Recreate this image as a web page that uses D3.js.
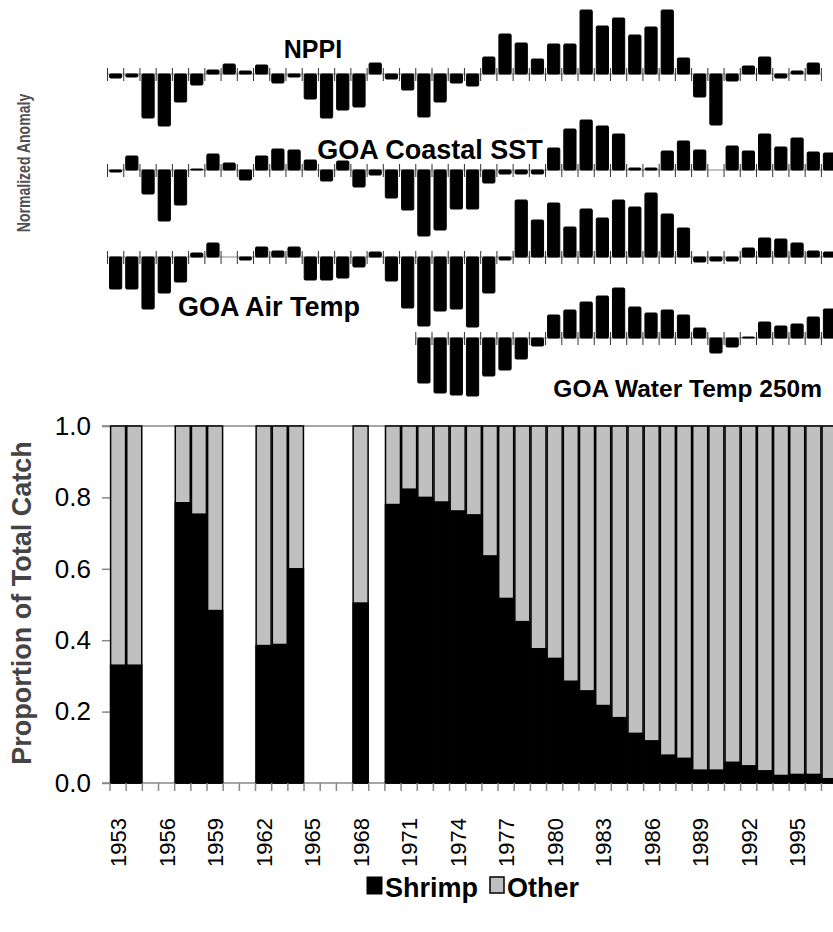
<!DOCTYPE html>
<html>
<head>
<meta charset="utf-8">
<script src="https://cdn.jsdelivr.net/npm/d3@7/dist/d3.min.js"></script>
<style>
  body { margin: 0; background: #fff; }
  svg { display: block; font-family: Arial, "Liberation Sans", sans-serif; }
</style>
</head>
<body>
<div id="chart"></div>
<script>
// years on the shared x axis
var years = d3.range(1953, 1998);
var labelYears = d3.range(1953, 1996, 3);
var propTicks = [0, 0.2, 0.4, 0.6, 0.8, 1.0];

// normalized anomalies (1953 ->)
var nppi = [-0.16, -0.12, -1.76, -2.08, -1.12, -0.44, 0.16, 0.4, 0.12, 0.36,
            -0.36, -0.12, -1.0, -1.76, -1.44, -1.32, 0.44, -0.2, -0.64, -1.72,
            -1.12, -0.36, -0.48, 0.68, 1.6, 1.24, 0.6, 1.2, 1.2, 2.56,
            1.92, 2.24, 1.56, 1.88, 2.56, 0.64, -0.92, -2.04, -0.28, 0.32,
            0.68, -0.16, 0.12, 0.44];
var coastalSST = [-0.08, 0.56, -0.96, -2.04, -1.4, 0.04, 0.64, 0.28, -0.4, 0.56,
                  0.84, 0.8, 0.4, -0.44, 0.36, -0.68, -0.2, -1.12, -1.6, -2.64,
                  -2.4, -1.56, -1.56, -0.52, -0.16, -0.16, -0.16, 0.88, 1.64, 2.0,
                  1.76, 1.44, 0.08, 0.08, 0.76, 1.16, 0.8, 0, 0.96, 0.76,
                  1.44, 0.92, 1.28, 0.72, 0.68];
var airTemp = [-1.28, -1.28, -2.08, -1.44, -1.0, 0.16, 0.56, 0, -0.12, 0.4,
               0.24, 0.4, -0.92, -0.92, -0.84, -0.4, 0.2, -0.96, -2.04, -2.76,
               -2.16, -2.08, -2.8, -1.44, -0.12, 2.28, 1.48, 2.16, 1.2, 1.92,
               1.56, 2.28, 2.0, 2.56, 1.72, 1.16, -0.2, -0.16, -0.16, 0.36,
               0.76, 0.72, 0.56, 0.24, 0.2];
// water temp series starts in 1972
var waterTemp = [-1.8, -2.2, -2.28, -2.32, -1.52, -1.28, -0.84, -0.32, 0.92, 1.12,
                 1.44, 1.68, 2.0, 1.24, 1.0, 1.12, 0.92, 0.4, -0.6, -0.36,
                 0.04, 0.64, 0.48, 0.56, 0.84, 1.16];

// shrimp share of total catch, null = no data
var shrimp = [0.33, 0.33, null, null, 0.785, 0.753, 0.483, null, null, 0.385,
              0.388, 0.60, null, null, null, 0.504, null, 0.78, 0.823, 0.80,
              0.787, 0.762, 0.751, 0.636, 0.517, 0.452, 0.376, 0.349, 0.285, 0.258,
              0.217, 0.183, 0.139, 0.118, 0.078, 0.069, 0.036, 0.036, 0.058, 0.048,
              0.034, 0.021, 0.024, 0.024, 0.012];

var W = 833, H = 932;
var FONT = "Arial, 'Liberation Sans', sans-serif";

var svg = d3.select("#chart").append("svg")
    .attr("width", W).attr("height", H);

svg.append("rect").attr("width", W).attr("height", H).attr("fill", "#fff");

/*
 * Upper anomaly panels
 */
var xUp = d3.scaleBand().domain(years).range([107.5, 107.5 + 45 * 16.225]);

var panels = [
  { label: "NPPI", data: nppi, start: 1953, end: 1996, base: 74, lx: 313, ly: 58, anchor: "middle", fs: 25 },
  { label: "GOA Coastal SST", data: coastalSST, start: 1953, end: 1997, base: 170, lx: 430, ly: 159, anchor: "middle", fs: 27 },
  { label: "GOA Air Temp", data: airTemp, start: 1953, end: 1997, base: 257, lx: 269, ly: 316, anchor: "middle", fs: 27 },
  { label: "GOA Water Temp 250m", data: waterTemp, start: 1972, end: 1997, base: 338, lx: 822, ly: 397, anchor: "end", fs: 24.5 }
];

panels.forEach(function(p) {
  var g = svg.append("g").attr("class", "panel");
  var y = d3.scaleLinear().domain([-1, 1]).range([p.base + 25, p.base - 25]);
  var pyears = d3.range(p.start, p.end + 1);
  var bw = xUp.bandwidth();

  // baseline
  g.append("line")
      .attr("x1", xUp(p.start)).attr("x2", xUp(p.end) + bw)
      .attr("y1", y(0)).attr("y2", y(0))
      .attr("stroke", "#888").attr("stroke-width", 1.2);

  // ticks at year boundaries
  var bounds = pyears.map(function(d) { return xUp(d); });
  bounds.push(xUp(p.end) + bw);
  g.selectAll("line.tk").data(bounds).enter().append("line")
      .attr("class", "tk")
      .attr("x1", function(d) { return d; }).attr("x2", function(d) { return d; })
      .attr("y1", y(0) - 6).attr("y2", y(0) + 7)
      .attr("stroke", "#333").attr("stroke-width", 1);

  g.selectAll("rect.bar").data(p.data).enter().append("rect")
      .attr("class", "bar")
      .attr("x", function(d, i) { return xUp(p.start + i) + 2; })
      .attr("width", bw - 4)
      .attr("y", function(d) { return Math.min(y(d), y(0)); })
      .attr("height", function(d) { return Math.abs(y(d) - y(0)); })
      .attr("rx", 1.2)
      .attr("fill", "#000").attr("stroke", "#000").attr("stroke-width", 1);

  svg.append("text")
      .attr("x", p.lx).attr("y", p.ly)
      .attr("text-anchor", p.anchor)
      .attr("font-size", p.fs + "px").attr("font-weight", "bold")
      .attr("fill", "#000")
      .text(p.label);
});

// squeezed along its length like the original
svg.append("text")
    .attr("transform", "translate(30,163) rotate(-90) scale(0.74,1)")
    .attr("text-anchor", "middle")
    .attr("font-size", "19px").attr("font-weight", "bold")
    .attr("fill", "#505050")
    .text("Normalized Anomaly");

/*
 * Lower stacked proportion chart
 */
var x = d3.scaleBand().domain(years).range([110, 110 + 45 * 16.17]);
var y = d3.scaleLinear().domain([0, 1]).range([783, 426]);

// frame lines at 0 and 1
[0, 1].forEach(function(v) {
  svg.append("line")
      .attr("x1", 102).attr("x2", W)
      .attr("y1", y(v)).attr("y2", y(v))
      .attr("stroke", "#888").attr("stroke-width", 1.5);
});

var yAxis = svg.append("g")
    .attr("transform", "translate(110,0)")
    .call(d3.axisLeft(y).tickValues(propTicks).tickFormat(d3.format(".1f")).tickSize(8).tickPadding(11));
yAxis.select(".domain").attr("stroke", "#888");
yAxis.selectAll(".tick line").attr("stroke", "#888").attr("stroke-width", 1.5);
yAxis.selectAll(".tick text")
    .attr("font-size", "26px").attr("fill", "#000")
    .attr("font-family", FONT);

var rows = years.map(function(d, i) { return { year: d, s: shrimp[i] }; })
    .filter(function(d) { return d.s !== null; });

// other (grey, full height) then shrimp on top of it
svg.selectAll("rect.other").data(rows).enter().append("rect")
    .attr("class", "other")
    .attr("x", function(d) { return x(d.year) + 0.6; })
    .attr("width", x.bandwidth() - 1.2)
    .attr("y", y(1))
    .attr("height", y(0) - y(1))
    .attr("fill", "#c0c0c0").attr("stroke", "#000").attr("stroke-width", 1.5);

svg.selectAll("rect.shrimp").data(rows).enter().append("rect")
    .attr("class", "shrimp")
    .attr("x", function(d) { return x(d.year) + 0.6; })
    .attr("width", x.bandwidth() - 1.2)
    .attr("y", function(d) { return y(d.s); })
    .attr("height", function(d) { return y(0) - y(d.s); })
    .attr("fill", "#000").attr("stroke", "#000").attr("stroke-width", 1.5);

// x ticks on year boundaries
var xb = years.map(function(d) { return x(d); });
svg.selectAll("line.xt").data(xb).enter().append("line")
    .attr("class", "xt")
    .attr("x1", function(d) { return d; }).attr("x2", function(d) { return d; })
    .attr("y1", 783).attr("y2", 791)
    .attr("stroke", "#888").attr("stroke-width", 1.5);

var xAxis = svg.append("g")
    .attr("transform", "translate(0,783)")
    .call(d3.axisBottom(x).tickValues(labelYears).tickSize(0));
xAxis.select(".domain").remove();
xAxis.selectAll(".tick text")
    .attr("transform", "rotate(-90)")
    .attr("x", -35).attr("y", 0).attr("dy", "0.36em")
    .attr("text-anchor", "end")
    .attr("font-size", "22px").attr("fill", "#000")
    .attr("font-family", FONT);

svg.append("text")
    .attr("transform", "translate(31,603) rotate(-90)")
    .attr("text-anchor", "middle")
    .attr("font-size", "27px").attr("font-weight", "bold")
    .attr("fill", "#444")
    .text("Proportion of Total Catch");

// legend
var legend = svg.append("g").attr("class", "legend");
legend.append("rect")
    .attr("x", 367).attr("y", 877).attr("width", 15).attr("height", 17)
    .attr("fill", "#000").attr("stroke", "#000");
legend.append("text")
    .attr("x", 385).attr("y", 897)
    .attr("font-size", "27px").attr("font-weight", "bold")
    .text("Shrimp");
legend.append("rect")
    .attr("x", 490).attr("y", 877).attr("width", 14).attr("height", 16)
    .attr("fill", "#c0c0c0").attr("stroke", "#000").attr("stroke-width", 1.5);
legend.append("text")
    .attr("x", 507).attr("y", 897)
    .attr("font-size", "27px").attr("font-weight", "bold")
    .text("Other");
</script>
</body>
</html>
